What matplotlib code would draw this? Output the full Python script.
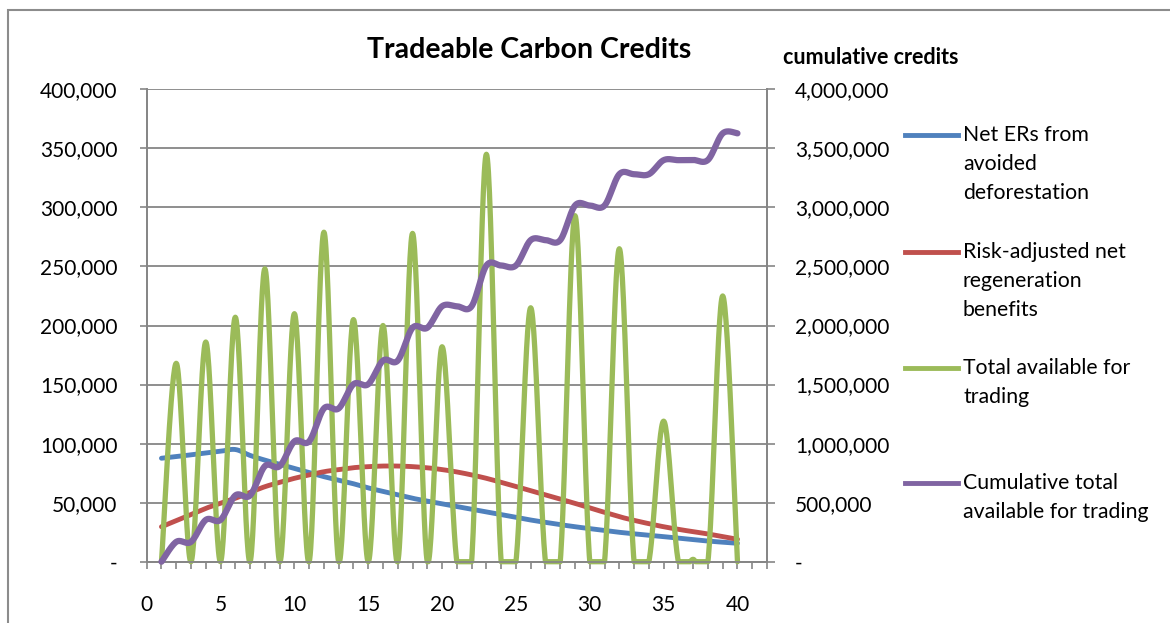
import numpy as np
import matplotlib
matplotlib.use("Agg")
import matplotlib.pyplot as plt
from matplotlib.ticker import FuncFormatter, FixedLocator
from matplotlib.lines import Line2D
from matplotlib.patches import Rectangle

plt.rcParams['font.family'] = ['Lato', 'DejaVu Sans']

years = list(range(1, 41))

# Net ERs from avoided deforestation
net_ers = [87600, 89000, 90500, 92000, 93500, 95000, 90000, 86000, 82500, 79000,
           75500, 72000, 69000, 66000, 62500, 59500, 56500, 53700, 51300, 49000,
           46700, 44500, 42300, 40000, 37600, 35300, 33300, 31400, 29600, 28000,
           26400, 24900, 23600, 22400, 21200, 20000, 18700, 17500, 16500, 15600]

# Risk-adjusted net regeneration benefits
regen = [29600, 34800, 40000, 45200, 49500, 53700, 58700, 63500, 67200, 70600,
         73500, 76200, 78000, 79600, 80500, 81000, 81000, 80500, 79500, 78000,
         76000, 73500, 70600, 67200, 63700, 60100, 56500, 53000, 49400, 45500,
         41800, 38100, 35000, 32200, 29600, 27400, 25400, 23500, 21200, 19000]

# Total available for trading
total = [0, 168000, 0, 186000, 0, 207000, 0, 248000, 0, 210000,
         0, 279000, 0, 205000, 0, 200000, 0, 278000, 0, 182000,
         0, 0, 345000, 0, 0, 215000, 0, 0, 293000, 0,
         0, 265000, 0, 0, 119000, 0, 2000, 0, 225000, 0]

# Cumulative total available for trading (right axis)
cumulative = [0, 168000, 168000, 354000, 354000, 561000, 561000, 809000, 809000, 1019000,
              1019000, 1298000, 1298000, 1503000, 1503000, 1703000, 1703000, 1981000, 1981000, 2163000,
              2163000, 2163000, 2508000, 2508000, 2508000, 2723000, 2723000, 2723000, 3016000, 3016000,
              3016000, 3281000, 3281000, 3281000, 3400000, 3400000, 3402000, 3402000, 3627000, 3627000]

labels = ["Net ERs from\navoided\ndeforestation",
          "Risk-adjusted net\nregeneration\nbenefits",
          "Total available for\ntrading",
          "Cumulative total\navailable for trading"]
colors = ['#4F81BD', '#C0504D', '#9BBB59', '#8064A2']


def smooth(x, y, n=30):
    # Excel-like smoothed line (cubic bezier through the points)
    x = np.asarray(x, float)
    y = np.asarray(y, float)
    px = np.concatenate([[x[0]], x, [x[-1]]])
    py = np.concatenate([[y[0]], y, [y[-1]]])
    t = np.linspace(0, 1, n)[:, None]
    xs, ys = [], []
    for i in range(len(x) - 1):
        p0 = np.array([px[i], py[i]])
        p1 = np.array([px[i + 1], py[i + 1]])
        p2 = np.array([px[i + 2], py[i + 2]])
        p3 = np.array([px[i + 3], py[i + 3]])
        c1 = p1 + (p2 - p0) / 6
        c2 = p2 - (p3 - p1) / 6
        b = ((1 - t) ** 3) * p1 + 3 * ((1 - t) ** 2) * t * c1 + 3 * (1 - t) * t ** 2 * c2 + t ** 3 * p2
        xs.append(b[:, 0])
        ys.append(b[:, 1])
    return np.concatenate(xs), np.concatenate(ys)


W, H = 1170, 623
fig = plt.figure(figsize=(W / 100, H / 100), dpi=100)
ax = fig.add_axes([146.7 / W, 1 - 561.7 / H, (767 - 146.7) / W, (561.7 - 89.3) / H])
ax2 = ax.twinx()

grey = '#868686'

for vals, c, lw in [(net_ers, colors[0], 3.5), (regen, colors[1], 3.5), (total, colors[2], 3.8)]:
    sx, sy = smooth(years, vals)
    sy = np.maximum(sy, 0)
    ax.plot(sx, sy, color=c, lw=lw, solid_capstyle='round', zorder=3, clip_on=False)
sx, sy = smooth(years, cumulative)
ax2.plot(sx, sy, color=colors[3], lw=4.5, solid_capstyle='round', zorder=3, clip_on=False)

ax.set_xlim(0, 42)
ax.set_ylim(0, 400000)
ax2.set_ylim(0, 4000000)

ax.set_yticks(np.arange(0, 400001, 50000))
ax2.set_yticks(np.arange(0, 4000001, 500000))
ax.yaxis.grid(True, color=grey, lw=1.3)
ax.set_axisbelow(True)

fmt = FuncFormatter(lambda v, p: '-' if v == 0 else f'{int(v):,}')
ax.yaxis.set_major_formatter(fmt)
ax2.yaxis.set_major_formatter(fmt)

ax.xaxis.set_major_locator(FixedLocator(list(range(0, 41, 5))))
ax.xaxis.set_minor_locator(FixedLocator(list(range(0, 43))))

for a in (ax, ax2):
    for s in a.spines.values():
        s.set_color(grey)
        s.set_linewidth(1.3)
ax.spines['top'].set_visible(False)
ax2.spines['top'].set_visible(False)

ax.tick_params(axis='x', which='both', direction='out', length=5, width=1.2, color=grey,
               labelsize=15, pad=19)
ax.tick_params(axis='y', direction='out', length=5, width=1.2, color=grey, labelsize=15, pad=16)
ax2.tick_params(axis='y', direction='out', length=6, width=1.2, color=grey, labelsize=15, pad=14)

# outer chart border
fig.patches.append(Rectangle((8 / W, -0.1), 1.2, 1.1 - 10 / H, transform=fig.transFigure,
                             fill=False, edgecolor='#8c8c8c', lw=1.5))

fig.text(529 / W, 1 - 50 / H, "Tradeable Carbon Credits", ha='center', va='center',
         fontsize=20.5, fontweight='bold')
fig.text(783 / W, 1 - 58 / H, "cumulative credits", ha='left', va='center',
         fontsize=15.5, fontweight='bold')

# legend drawn Excel-style
first_rows = [135, 252, 368, 483]
for lab, c, y0 in zip(labels, colors, first_rows):
    fig.add_artist(Line2D([905 / W, 958 / W], [1 - y0 / H, 1 - y0 / H], color=c, lw=3.5,
                          transform=fig.transFigure))
    for k, line in enumerate(lab.split('\n')):
        fig.text(963 / W, 1 - (y0 + 29 * k) / H, line, ha='left', va='center', fontsize=15.3)

fig.savefig('out.png', dpi=100)
